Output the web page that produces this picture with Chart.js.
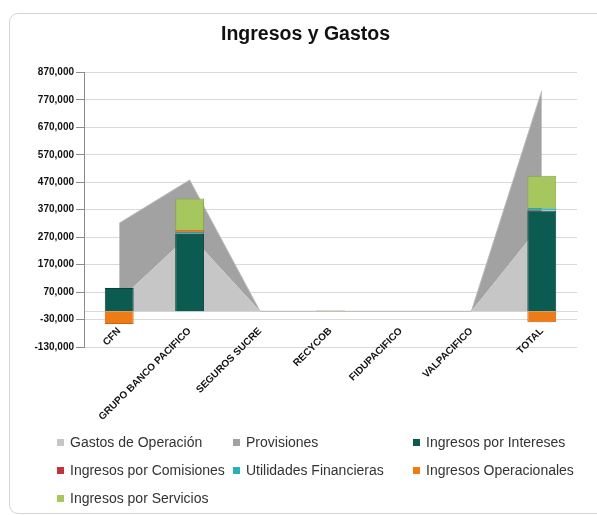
<!DOCTYPE html>
<html>
<head>
<meta charset="utf-8">
<script src="https://cdn.jsdelivr.net/npm/chart.js@4.4.1/dist/chart.umd.min.js"></script>
<style>
  html, body { margin: 0; padding: 0; background: #fff; overflow: hidden; width: 597px; height: 515px; }
  #marco { position: absolute; left: 9px; top: 13px; width: 700px; height: 499px; border: 1px solid #d4d4d4; border-radius: 9px; }
  #contenedor { position: absolute; left: 10px; top: 14px; width: 597px; height: 420px; }
  #leyenda { position: absolute; left: 57px; top: 432px; display: grid; grid-template-columns: 176px 180px auto; row-gap: 8px;
             font: 14px "Liberation Sans", Arial, sans-serif; color: #333; }
  .item { display: flex; align-items: center; height: 20px; white-space: nowrap; }
  .caja { width: 7px; height: 7px; margin-right: 6px; }
</style>
</head>
<body>
<div id="marco"></div>
<div id="contenedor"><canvas id="grafico"></canvas></div>
<div id="leyenda"></div>
<script>
// Datos del gráfico
const categorias = ['CFN', 'GRUPO BANCO PACIFICO', 'SEGUROS SUCRE', 'RECYCOB', 'FIDUPACIFICO', 'VALPACIFICO', 'TOTAL'];
const gastosOperacion = [40000, 280000, 0, 0, 0, 0, 320000];
const provisiones = [281000, 198000, 0, 0, 0, 0, 483000];
const ingresosIntereses = [85000, 282000, 0, 0, 0, 0, 367000];
const ingresosComisiones = [0, 1000, 0, 0, 0, 0, 1000];
const utilidadesFinancieras = [1000, 6000, 0, 0, 0, 0, 7000];
const ingresosOperacionales = [-46000, 6000, 0, 0, 0, 0, -40000];
const ingresosServicios = [0, 116000, 0, 3000, 0, 0, 119000];
const ticksY = [-130000, 870000, 100000]; // mínimo, máximo, paso

Chart.defaults.font.family = '"Liberation Sans", Arial, sans-serif';

// Barra apilada de ingresos
function barra(etiqueta, datos, color, borde) {
    return {
        type: 'bar', label: etiqueta, data: datos, stack: 'ingresos', order: 1,
        backgroundColor: color, borderColor: borde, borderWidth: 1,
        barPercentage: 0.41, categoryPercentage: 1
    };
}

const ctx = document.getElementById('grafico').getContext('2d');
const chart = new Chart(ctx, {
    data: {
        labels: categorias,
        datasets: [
            { type: 'line', label: 'Gastos de Operación', data: gastosOperacion, stack: 'gastos', order: 2,
              fill: 'origin', backgroundColor: '#c6c6c6', borderColor: '#c6c6c6', borderWidth: 0, pointRadius: 0, tension: 0 },
            { type: 'line', label: 'Provisiones', data: provisiones, stack: 'gastos', order: 2,
              fill: '-1', backgroundColor: '#a2a2a2', borderColor: '#b9b9b9', borderWidth: 1, pointRadius: 0, tension: 0 },
            barra('Ingresos por Intereses', ingresosIntereses, '#0b5b50', '#074238'),
            barra('Ingresos por Comisiones', ingresosComisiones, '#c0353c', '#9a2a30'),
            barra('Utilidades Financieras', utilidadesFinancieras, '#27b3b3', '#1d8e8e'),
            barra('Ingresos Operacionales', ingresosOperacionales, '#ee7b16', '#c8620c'),
            barra('Ingresos por Servicios', ingresosServicios, '#a6c65e', '#86a548')
        ]
    },
    options: {
        responsive: true,
        maintainAspectRatio: false,
        animation: false,
        layout: { padding: { left: 24, right: 30, top: 0, bottom: 87 } },
        plugins: {
            legend: { display: false },
            tooltip: { enabled: false },
            title: {
                display: true, text: 'Ingresos y Gastos', color: '#111',
                font: { size: 19.5, weight: 'bold' }, padding: { top: 9, bottom: 26 }
            }
        },
        scales: {
            x: {
                stacked: true,
                position: { y: 0 },
                grid: { display: false, drawTicks: false },
                border: { display: true, color: '#d9d9d9' },
                ticks: { autoSkip: false, minRotation: 45, maxRotation: 45, padding: 14, color: '#111', font: { size: 10, weight: 'bold' } },
                afterFit: s => { s.height = 0; }
            },
            y: {
                stacked: true,
                min: ticksY[0], max: ticksY[1],
                ticks: { stepSize: ticksY[2], padding: 2, color: '#111', font: { size: 10, weight: 'bold' },
                         callback: v => v.toLocaleString('en-US') },
                grid: { color: '#d9d9d9', tickColor: '#8c8c8c', tickLength: 8 },
                border: { color: '#8c8c8c' },
                afterFit: s => { s.width = 50; }
            }
        }
    }
});

// Leyenda en HTML con las etiquetas que genera Chart.js
const items = Chart.defaults.plugins.legend.labels.generateLabels(chart)
    .sort((a, b) => a.datasetIndex - b.datasetIndex);
const leyenda = document.getElementById('leyenda');
items.forEach(it => {
    const div = document.createElement('div');
    div.className = 'item';
    const caja = document.createElement('span');
    caja.className = 'caja';
    caja.style.background = it.fillStyle;
    div.appendChild(caja);
    div.appendChild(document.createTextNode(it.text));
    leyenda.appendChild(div);
});
</script>
</body>
</html>
